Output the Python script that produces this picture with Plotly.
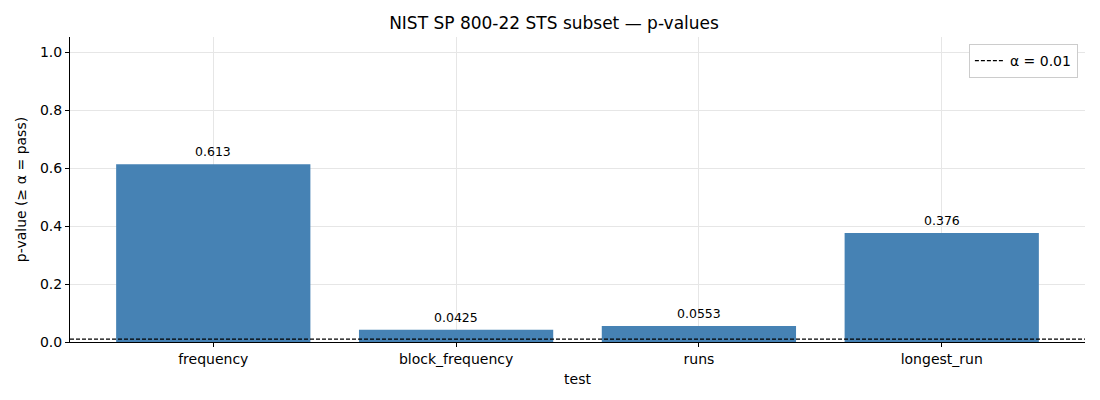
import plotly.graph_objects as go

tests = ["frequency", "block_frequency", "runs", "longest_run"]
p_values = [0.613, 0.0425, 0.0553, 0.376]
p_labels = ["0.613", "0.0425", "0.0553", "0.376"]
alpha = 0.01

fig = go.Figure()

fig.add_trace(go.Bar(
    x=tests, y=p_values,
    marker=dict(color="#4682B4", line=dict(width=0)),
    width=0.8,
    showlegend=False,
    hoverinfo="x+y",
))

# value labels above bars
for t, v, lab in zip(tests, p_values, p_labels):
    fig.add_annotation(
        x=t, y=v, text=lab, showarrow=False,
        yanchor="bottom", yshift=3,
        font=dict(size=12.5, color="black"),
    )

# significance threshold
fig.add_shape(
    type="line", xref="paper", x0=0, x1=1, y0=alpha, y1=alpha,
    line=dict(color="black", width=1.2, dash="4px,2px"),
    showlegend=True, name=f"α = {alpha}",
)

# page body has an 8px margin, so size/margins are compensated
fig.update_layout(
    width=1092, height=392,
    margin=dict(l=58, r=15, t=29, b=58),
    paper_bgcolor="white", plot_bgcolor="white",
    font=dict(family="DejaVu Sans", size=14, color="black"),
    title=dict(text="NIST SP 800-22 STS subset — p-values",
               x=0.5, xanchor="center", y=0.962, yanchor="middle",
               font=dict(size=17)),
    legend=dict(x=0.993, y=0.977, xanchor="right", yanchor="top",
                bgcolor="white", bordercolor="#cccccc", borderwidth=1,
                font=dict(size=14)),
    bargap=0.2,
)

fig.update_xaxes(
    title=dict(text="test", font=dict(size=14), standoff=8),
    range=[-0.59, 3.59],
    showline=True, linecolor="black", linewidth=1,
    ticks="outside", ticklen=4, tickcolor="black",
    showgrid=True, gridcolor="#e6e6e6", gridwidth=1,
    layer="above traces",
)
fig.update_yaxes(
    title=dict(text="p-value (≥ α = pass)", font=dict(size=14), standoff=10),
    range=[0, 1.052],
    tickvals=[0, 0.2, 0.4, 0.6, 0.8, 1.0], tickformat=".1f",
    showline=True, linecolor="black", linewidth=1,
    ticks="outside", ticklen=4, tickcolor="black",
    showgrid=True, gridcolor="#e6e6e6", gridwidth=1,
    zeroline=False,
    layer="above traces",
)

fig.write_html("out.html")
